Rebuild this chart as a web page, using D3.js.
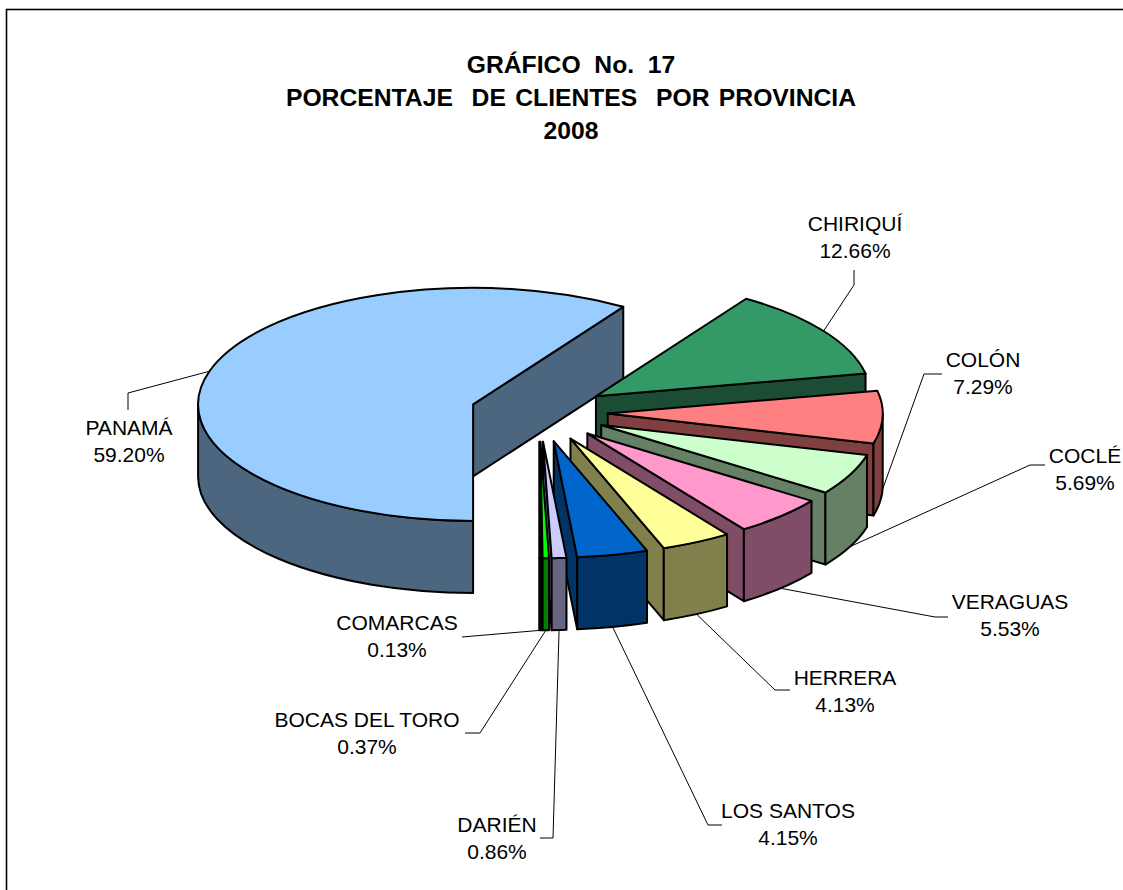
<!DOCTYPE html>
<html>
<head>
<meta charset="utf-8">
<script src="https://cdn.jsdelivr.net/npm/d3@7"></script>
<style>
  html, body { margin: 0; padding: 0; background: #fff; }
  svg { display: block; font-family: "Liberation Sans", Arial, sans-serif; }
  text { white-space: pre; }
</style>
</head>
<body>
<script>
// ---- data ----
const categories = ["PANAMÁ", "CHIRIQUÍ", "COLÓN", "COCLÉ", "VERAGUAS", "HERRERA", "LOS SANTOS", "DARIÉN", "BOCAS DEL TORO", "COMARCAS"];
const values = [59.20, 12.66, 7.29, 5.69, 5.53, 4.13, 4.15, 0.86, 0.37, 0.13];
const valueLabels = ["59.20%", "12.66%", "7.29%", "5.69%", "5.53%", "4.13%", "4.15%", "0.86%", "0.37%", "0.13%"];
const colors = ["#99CCFF", "#339966", "#FF8080", "#CCFFCC", "#FF99CC", "#FFFF99", "#0066CC", "#CCCCFF", "#00FF00", "#333333"];
const titleLines = ["GRÁFICO  No.  17", "PORCENTAJE  DE CLIENTES  POR PROVINCIA", "2008"];

// ---- layout ----
const W = 1123, H = 890;
const cx = 539, cy = 412.7, rx = 275, ry = 116.5, depth = 72, explode = 0.25;
const labelPos = [[129, 435], [855, 231], [983, 367], [1085, 463], [1010, 609], [845, 685], [788, 818], [497, 832], [367, 727], [397, 630]];
const leaderPts = [
  [[128, 393], [128, 410]],
  [[854, 285], [854, 270]],
  [[924, 374], [942, 374]],
  [[1030, 465], [1045, 465]],
  [[935, 617], [948, 617]],
  [[775, 690], [790, 690]],
  [[708, 825], [722, 825]],
  [[553, 838], [540, 838]],
  [[480, 733], [465, 733]],
  [[462, 637]]
];

const svg = d3.select("body").append("svg").attr("width", W).attr("height", H);

// frame
svg.append("rect").attr("x", 6.5).attr("y", 9.5).attr("width", 1140).attr("height", 900)
  .attr("fill", "none").attr("stroke", "#000").attr("stroke-width", 1.6);

// title
svg.append("g").selectAll("text").data(titleLines).join("text")
  .attr("x", 571).attr("y", (d, i) => 73 + i * 33)
  .attr("text-anchor", "middle").attr("font-weight", "bold").attr("font-size", 24.7)
  .attr("word-spacing", (d, i) => i === 1 ? 2.5 : 0)
  .text(d => d);

const arcs = d3.pie().sort(null).startAngle(Math.PI).endAngle(3 * Math.PI)(values);

function shade(c) {
  const k = d3.rgb(c);
  return d3.rgb(k.r * 0.5, k.g * 0.5, k.b * 0.5).formatHex();
}
const fmt = p => p[0].toFixed(2) + "," + p[1].toFixed(2);

const g = svg.append("g").attr("stroke", "#000").attr("stroke-width", 2).attr("stroke-linejoin", "round");

arcs.forEach((d, i) => {
  const a1 = d.startAngle, a2 = d.endAngle, m = (a1 + a2) / 2;
  const ax = cx + explode * rx * Math.sin(m);
  const ay = cy - explode * ry * Math.cos(m);
  d.ax = ax; d.ay = ay; d.mid = m;
  const P = (t, dz = 0) => [ax + rx * Math.sin(t), ay - ry * Math.cos(t) + dz];
  const A = [ax, ay], Ad = [ax, ay + depth];
  const dark = shade(colors[i]);

  // radial faces
  const quad = t => "M" + fmt(A) + "L" + fmt(P(t)) + "L" + fmt(P(t, depth)) + "L" + fmt(Ad) + "Z";
  if (Math.sin(a1) < -1e-9) g.append("path").attr("d", quad(a1)).attr("fill", dark);
  if (Math.sin(a2) > 1e-9) g.append("path").attr("d", quad(a2)).attr("fill", dark);

  // outer wall (front half only)
  for (let k = 0; k < 2; k++) {
    const lo = Math.max(a1, Math.PI / 2 + 2 * Math.PI * k);
    const hi = Math.min(a2, 3 * Math.PI / 2 + 2 * Math.PI * k);
    if (hi > lo) {
      const path = "M" + fmt(P(lo)) +
        "A" + rx + "," + ry + " 0 0 1 " + fmt(P(hi)) +
        "L" + fmt(P(hi, depth)) +
        "A" + rx + "," + ry + " 0 0 0 " + fmt(P(lo, depth)) + "Z";
      g.append("path").attr("d", path).attr("fill", dark);
    }
  }

  // top face
  const large = (a2 - a1) > Math.PI ? 1 : 0;
  const top = "M" + fmt(A) + "L" + fmt(P(a1)) +
    "A" + rx + "," + ry + " 0 " + large + " 1 " + fmt(P(a2)) + "Z";
  g.append("path").attr("d", top).attr("fill", colors[i]);
});

// leader lines
const lg = svg.append("g").attr("fill", "none").attr("stroke", "#000").attr("stroke-width", 1);
arcs.forEach((d, i) => {
  const m = d.mid;
  const front = Math.cos(m) < 0;
  const anchor = [d.ax + rx * Math.sin(m), d.ay - ry * Math.cos(m) + (front ? depth : 0)];
  const pts = [anchor].concat(leaderPts[i]);
  lg.append("path").attr("d", d3.line()(pts));
});

// labels
const tg = svg.append("g").attr("font-size", 21).attr("text-anchor", "middle").attr("fill", "#000");
categories.forEach((c, i) => {
  const [x, y] = labelPos[i];
  tg.append("text").attr("x", x).attr("y", y).text(c);
  tg.append("text").attr("x", x).attr("y", y + 27).text(valueLabels[i]);
});
</script>
</body>
</html>
